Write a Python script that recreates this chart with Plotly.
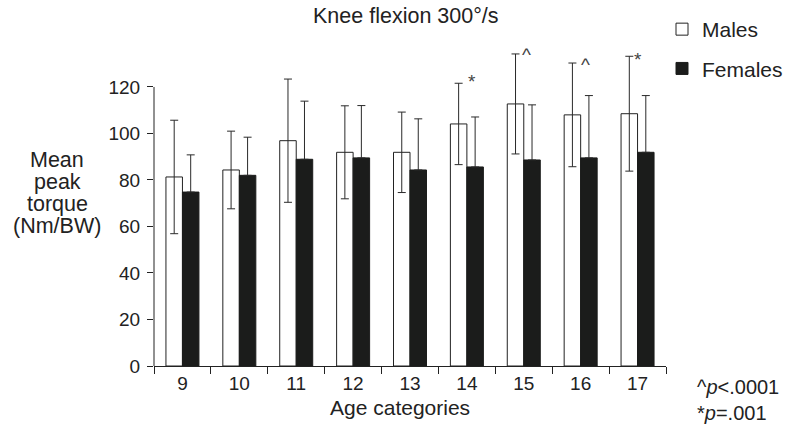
import plotly.graph_objects as go

categories = ["9", "10", "11", "12", "13", "14", "15", "16", "17"]
males_mean = [81.3, 84.3, 96.9, 91.9, 91.9, 104.1, 112.7, 108.0, 108.5]
males_sd = [24.4, 16.7, 26.5, 20.0, 17.3, 17.5, 21.5, 22.3, 24.7]
females_mean = [74.8, 82.0, 88.9, 89.5, 84.3, 85.6, 88.6, 89.5, 91.9]
females_sd = [16.0, 16.4, 25.0, 22.5, 22.0, 21.5, 23.7, 26.8, 24.4]
sig_marks = ["", "", "", "", "", "*", "^", "^", "*"]
y_title_lines = ["Mean", "peak", "torque", "(Nm/BW)"]

W, H = 788, 425
ML, MR, MT, MB = 154, 122, 40, 59
PW, PH = W - ML - MR, H - MT - MB
YMAX = 140.2
FONT = "Liberation Sans, Arial, Helvetica, sans-serif"
INK = "#222"

# pixel nudges of the significance marks (style only)
mark_xshift = [0, 0, 0, 0, 0, 5.2, 2.6, 4.5, 0.8]
mark_yshift = [0, 0, 0, 0, 0, 2.2, -0.9, -1.2, -3.2]

def px_x(px):
    return (px - ML) / PW

def px_y(py):
    return (H - MB - py) / PH

fig = go.Figure()
fig.add_trace(go.Bar(
    x=categories, y=males_mean, name="Males",
    marker=dict(color="white", line=dict(color=INK, width=1)),
    error_y=dict(type="data", array=males_sd, visible=True, color="#2a2a2a", thickness=1, width=4),
    legendgroup="m",
))
fig.add_trace(go.Bar(
    x=categories, y=females_mean, name="Females",
    marker=dict(color="#1b1c1b", line=dict(color="#1b1c1b", width=1)),
    error_y=dict(type="data", symmetric=False, array=females_sd,
                 arrayminus=[0] * len(females_sd), visible=True,
                 color="#2a2a2a", thickness=1, width=4),
    legendgroup="f",
))

# significance marks (x given as category index)
for i, (m, s, mk) in enumerate(zip(males_mean, males_sd, sig_marks)):
    if not mk:
        continue
    fig.add_annotation(x=i, y=m + s, xref="x", yref="y", text=mk, showarrow=False,
                       xshift=mark_xshift[i], yshift=mark_yshift[i],
                       font=dict(size=19, color="#444", family=FONT),
                       xanchor="center", yanchor="middle")

# y-axis line only up to 120
fig.add_shape(type="line", xref="paper", yref="y", x0=0, x1=0, y0=0, y1=120,
              line=dict(color=INK, width=1))

for k, line in enumerate(y_title_lines):
    fig.add_annotation(text=line, xref="paper", yref="paper",
                       x=px_x(57), y=px_y(160 + 21.9 * k), showarrow=False,
                       xanchor="center", yanchor="middle",
                       font=dict(size=21.5, family=FONT, color=INK))
fig.add_annotation(text="Age categories", xref="paper", yref="paper",
                   x=px_x(400), y=px_y(407), showarrow=False,
                   xanchor="center", yanchor="middle",
                   font=dict(size=21, family=FONT, color=INK))
fig.add_annotation(text="Knee flexion 300°/s", xref="paper", yref="paper",
                   x=px_x(406), y=px_y(16), showarrow=False,
                   xanchor="center", yanchor="middle",
                   font=dict(size=21.5, family=FONT, color=INK))
fig.add_annotation(text="^<i>p</i>&lt;.0001<br>*<i>p</i>=.001", xref="paper", yref="paper",
                   x=px_x(695), y=px_y(400), showarrow=False, align="left", xanchor="left",
                   yanchor="middle",
                   font=dict(size=20, family=FONT, color=INK))

fig.update_layout(
    width=W, height=H,
    margin=dict(l=ML, r=MR, t=MT, b=MB, pad=0, autoexpand=False),
    paper_bgcolor="white", plot_bgcolor="white",
    barmode="group", bargap=0.42, bargroupgap=0,
    font=dict(family=FONT, size=19, color=INK),
    showlegend=True,
    legend=dict(x=px_x(662), y=px_y(9), xanchor="left", yanchor="top",
                traceorder="grouped", tracegroupgap=9,
                font=dict(size=21, family=FONT, color=INK), bgcolor="rgba(0,0,0,0)"),
    xaxis=dict(type="category", range=[-0.5, len(categories) - 0.5], autorange=False,
               showline=True, linecolor=INK, linewidth=1, tickangle=0, automargin=False,
               ticks="outside", tickson="boundaries", ticklen=7, tickcolor=INK,
               showgrid=False, zeroline=False, fixedrange=True),
    yaxis=dict(range=[0, YMAX], showline=False, tickvals=[0, 20, 40, 60, 80, 100, 120],
               ticks="outside", ticklen=6, tickcolor=INK, showgrid=False, automargin=False,
               zeroline=False, ticklabelstandoff=3),
)

fig.write_html("out.html")
